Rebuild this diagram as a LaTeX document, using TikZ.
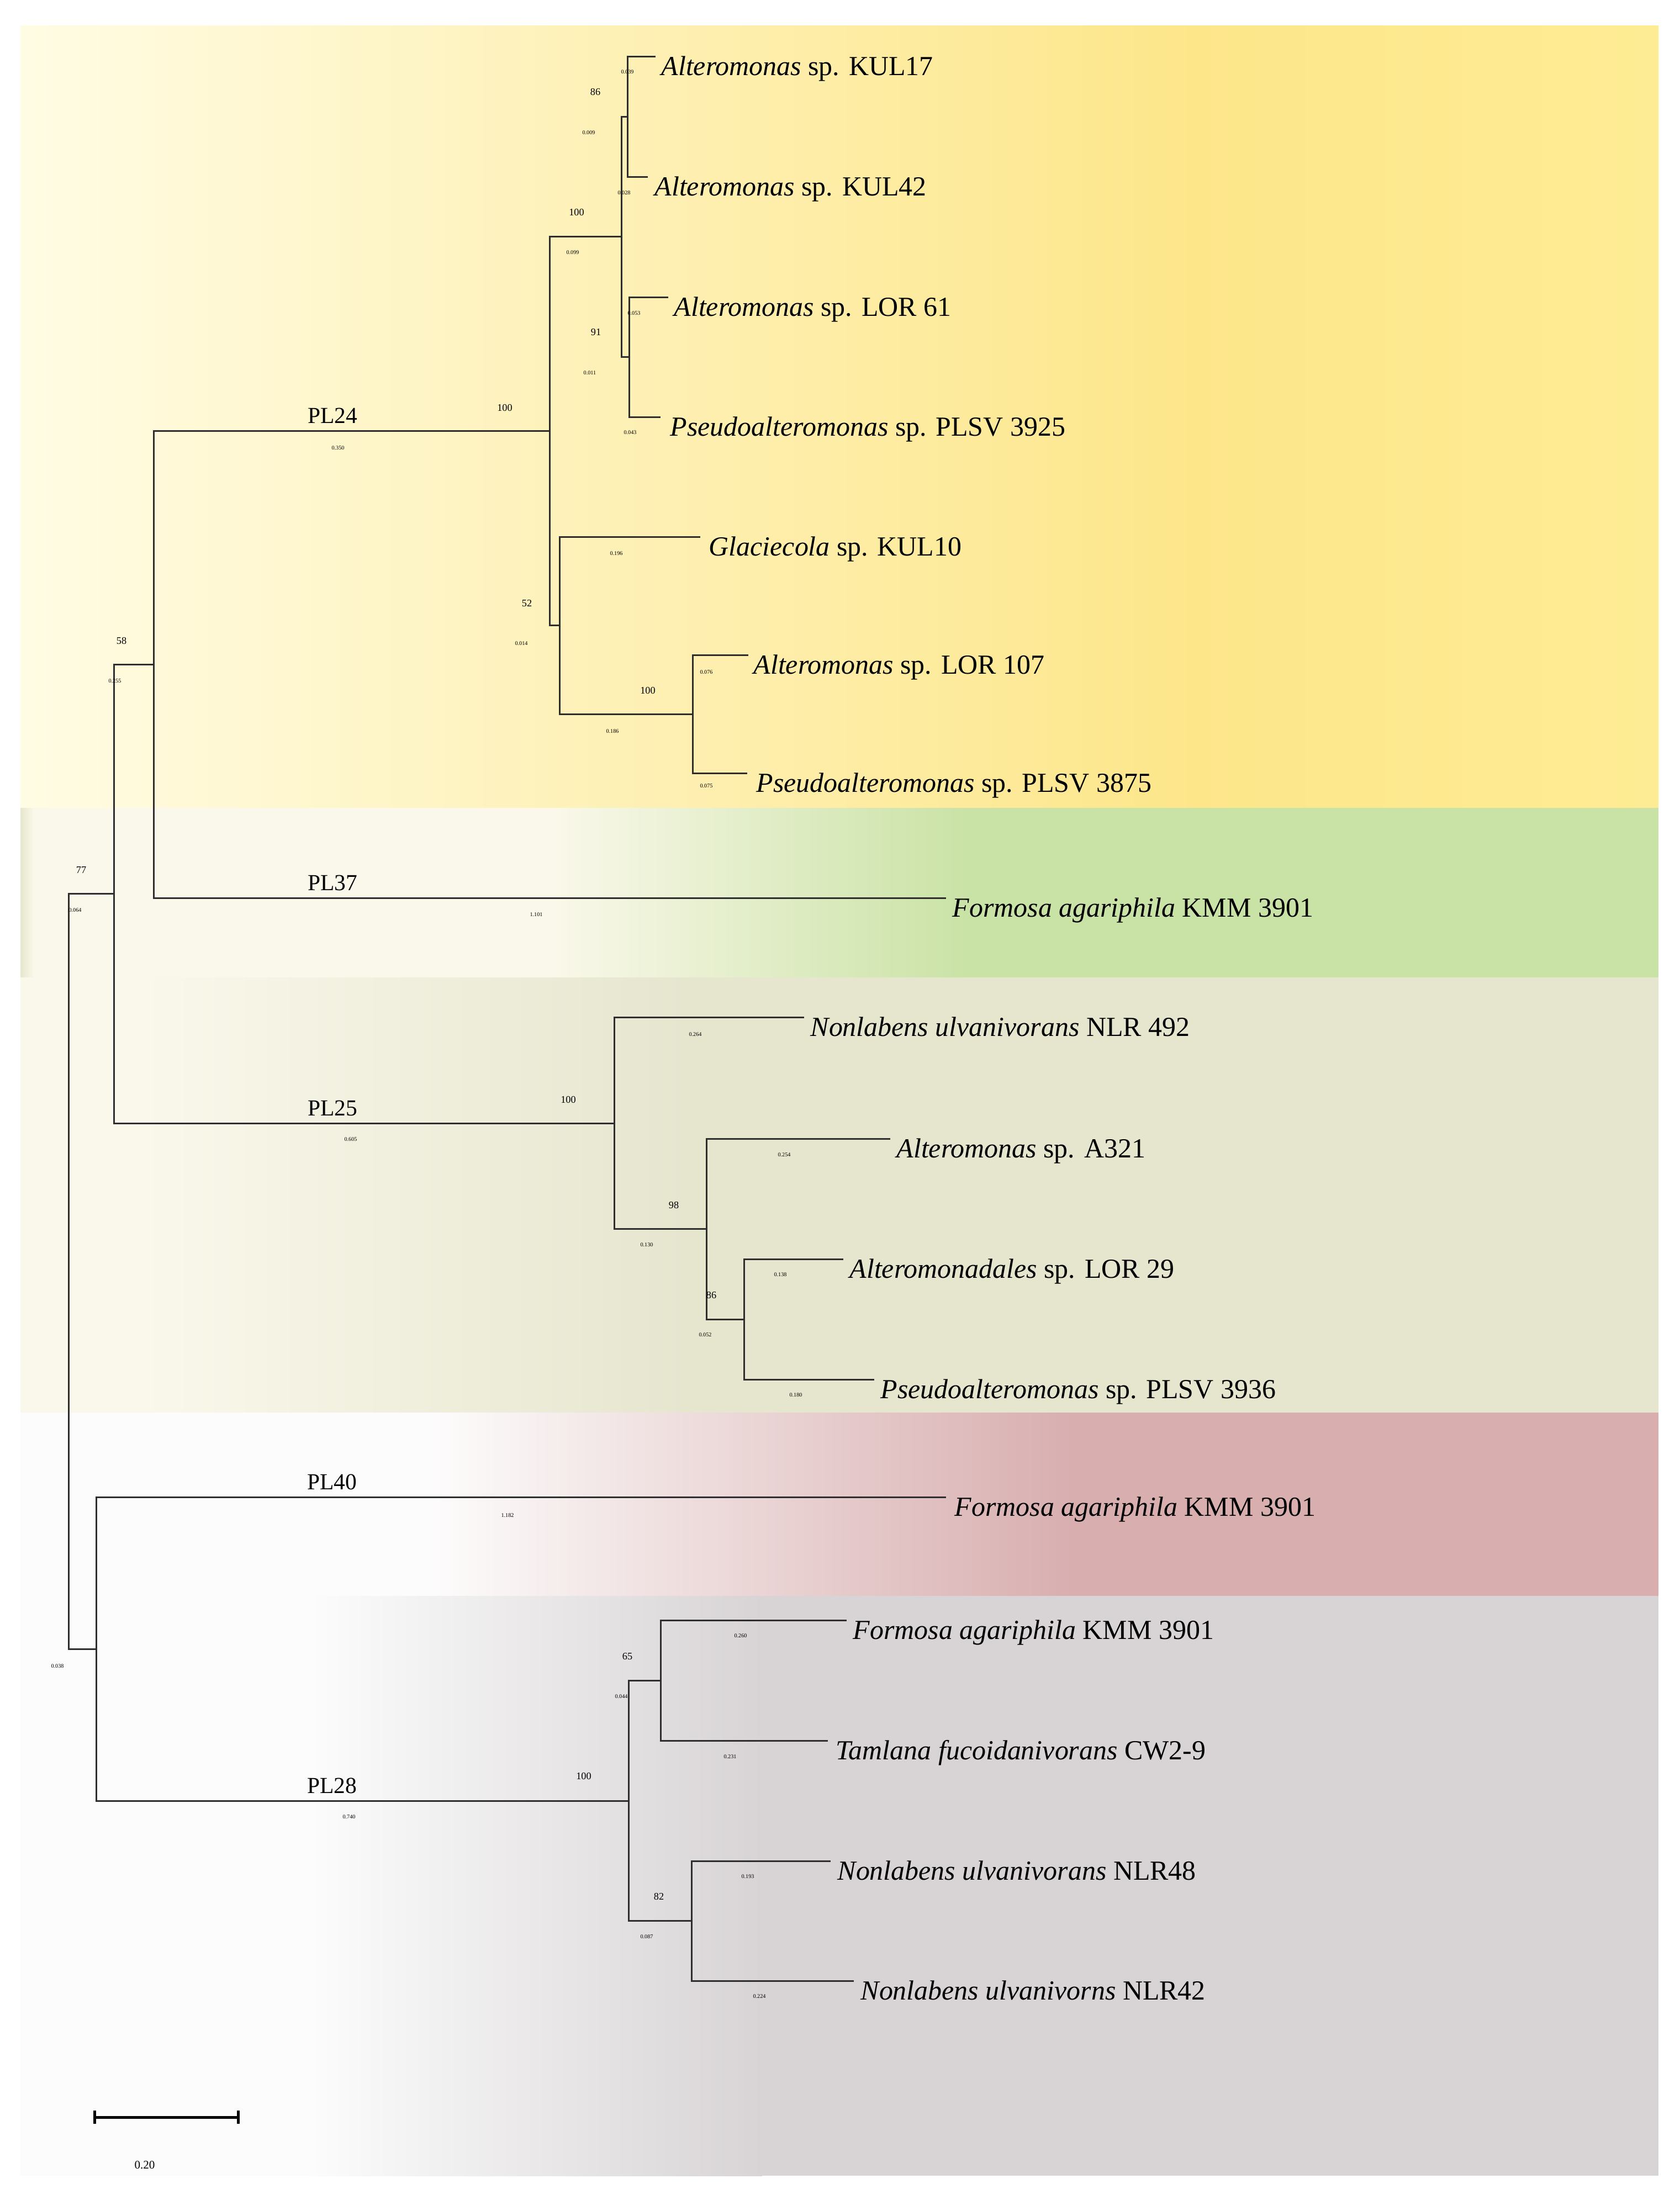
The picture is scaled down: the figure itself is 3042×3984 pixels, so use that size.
\documentclass[tikz,border=0pt]{standalone}
\usepackage{fontspec}
\setmainfont{Liberation Serif}
\definecolor{yA}{HTML}{FFFCE4}
\definecolor{yB}{HTML}{FDE68A}
\definecolor{yC}{HTML}{FEEC94}
\definecolor{gA}{HTML}{FAF8EA}
\definecolor{gB}{HTML}{C9E2A5}
\definecolor{gS}{HTML}{E6E7CE}
\definecolor{oA}{HTML}{FAF8EB}
\definecolor{oB}{HTML}{E6E6CF}
\definecolor{rA}{HTML}{FDFCFC}
\definecolor{rB}{HTML}{D8AEAF}
\definecolor{kA}{HTML}{FCFCFC}
\definecolor{kB}{HTML}{D8D4D5}
\definecolor{lineC}{HTML}{2E2E2E}
\tikzset{
  br/.style={line width=0.03cm, draw=lineC},
  sbar/.style={line width=0.05cm, draw=black},
  sp/.style={anchor=base west, inner sep=0pt, font=\fontsize{14.2pt}{16pt}\selectfont},
  pl/.style={anchor=base, inner sep=0pt, font=\fontsize{11.8pt}{13pt}\selectfont},
  bs/.style={anchor=center, inner sep=0pt, font=\fontsize{5.2pt}{6pt}\selectfont},
  bl/.style={anchor=center, inner sep=0pt, font=\fontsize{2.9pt}{3.5pt}\selectfont},
  sl/.style={anchor=center, inner sep=0pt, font=\fontsize{6pt}{7pt}\selectfont}
}
\begin{document}
\begin{tikzpicture}[x=0.01cm, y=-0.01cm]
\useasboundingbox (0,0) rectangle (3042,3984);
\fill[white] (0,0) rectangle (3042,3984);
% ---- bands ----
\shade[left color=yA, right color=yB] (37,46) rectangle (2160,1463);
\shade[left color=yB, right color=yC] (2150,46) rectangle (3003,1463);
\fill[gA] (37,1463) rectangle (1010,1770);
\shade[left color=gA, right color=gB] (1000,1463) rectangle (1760,1770);
\fill[gB] (1750,1463) rectangle (3003,1770);
\shade[left color=gS, right color=gA] (37,1463) rectangle (62,1770);
\fill[oA] (37,1770) rectangle (260,2558);
\shade[left color=oA, right color=oB] (250,1770) rectangle (1250,2558);
\fill[oB] (1240,1770) rectangle (3003,2558);
\fill[rA] (37,2558) rectangle (790,2890);
\shade[left color=rA, right color=rB] (780,2558) rectangle (1950,2890);
\fill[rB] (1940,2558) rectangle (3003,2890);
\fill[kA] (37,2890) rectangle (570,3940);
\shade[left color=kA, right color=kB] (560,2890) rectangle (1380,3940);
\fill[kB] (1370,2890) rectangle (3003,3940);
% ---- internal nodes ----
\coordinate (root) at (124,2302);
\coordinate (nA) at (206,1618.5);
\coordinate (nB) at (174,2986);
\coordinate (n58) at (278,1203);
\coordinate (nPL24) at (995,780.5);
\coordinate (nA100) at (1125,428.5);
\coordinate (nKUL) at (1136,211);
\coordinate (nLOR61) at (1139,646.5);
\coordinate (n52) at (1013,1132.5);
\coordinate (nLOR107) at (1254,1293);
\coordinate (nPL25) at (1112,2034);
\coordinate (n98) at (1279,2225.5);
\coordinate (n86) at (1347,2389);
\coordinate (n65) at (1196,3043);
\coordinate (n82) at (1252,3478.5);
\coordinate (nPL28) at (1138,3261);
% ---- tips ----
\coordinate (tKUL17) at (1187,102);
\coordinate (tKUL42) at (1173,320);
\coordinate (tLOR61) at (1210,538);
\coordinate (t3925) at (1196,755);
\coordinate (tGlac) at (1268,972);
\coordinate (tLOR107) at (1355,1186);
\coordinate (t3875) at (1353,1400);
\coordinate (tPL37) at (1713,1626);
\coordinate (tNLR492) at (1456,1842);
\coordinate (tA321) at (1612,2062);
\coordinate (tLOR29) at (1527,2280);
\coordinate (t3936) at (1583,2498);
\coordinate (tPL40) at (1713,2711);
\coordinate (tForm) at (1533,2934);
\coordinate (tTaml) at (1499,3152);
\coordinate (tNLR48) at (1504,3370);
\coordinate (tNLR42) at (1546,3587);
% ---- branches ----
\draw[br] (tKUL17) -| (nKUL) |- (tKUL42);
\draw[br] (tLOR61) -| (nLOR61) |- (t3925);
\draw[br] (nKUL) -| (nA100) |- (nLOR61);
\draw[br] (tLOR107) -| (nLOR107) |- (t3875);
\draw[br] (tGlac) -| (n52) |- (nLOR107);
\draw[br] (nA100) -| (nPL24) |- (n52);
\draw[br] (nPL24) -| (n58) |- (tPL37);
\draw[br] (tLOR29) -| (n86) |- (t3936);
\draw[br] (tA321) -| (n98) |- (n86);
\draw[br] (tNLR492) -| (nPL25) |- (n98);
\draw[br] (n58) -| (nA) |- (nPL25);
\draw[br] (tForm) -| (n65) |- (tTaml);
\draw[br] (tNLR48) -| (n82) |- (tNLR42);
\draw[br] (n65) -| (nPL28) |- (n82);
\draw[br] (tPL40) -| (nB) |- (nPL28);
\draw[br] (nA) -| (root) |- (nB);
% ---- species labels ----
\node[sp] (sKUL17) at (1197,136) {\textit{Alteromonas} sp. KUL17};
\node[sp] (sKUL42) at (1185,354) {\textit{Alteromonas} sp. KUL42};
\node[sp] (sLOR61) at (1220,572) {\textit{Alteromonas} sp. LOR 61};
\node[sp] (s3925) at (1213,789) {\textit{Pseudoalteromonas} sp. PLSV 3925};
\node[sp] (sGlac) at (1283,1006) {\textit{Glaciecola} sp. KUL10};
\node[sp] (sLOR107) at (1364,1220) {\textit{Alteromonas} sp. LOR 107};
\node[sp] (s3875) at (1369,1434) {\textit{Pseudoalteromonas} sp. PLSV 3875};
\node[sp] (sPL37) at (1724,1660) {\textit{Formosa agariphila} KMM 3901};
\node[sp] (sNLR492) at (1467,1876) {\textit{Nonlabens ulvanivorans} NLR 492};
\node[sp] (sA321) at (1623,2096) {\textit{Alteromonas} sp. A321};
\node[sp] (sLOR29) at (1538,2314) {\textit{Alteromonadales} sp. LOR 29};
\node[sp] (s3936) at (1594,2532) {\textit{Pseudoalteromonas} sp. PLSV 3936};
\node[sp] (sPL40) at (1728,2745) {\textit{Formosa agariphila} KMM 3901};
\node[sp] (sForm) at (1544,2968) {\textit{Formosa agariphila} KMM 3901};
\node[sp] (sTaml) at (1513,3186) {\textit{Tamlana fucoidanivorans} CW2-9};
\node[sp] (sNLR48) at (1516,3404) {\textit{Nonlabens ulvanivorans} NLR48};
\node[sp] (sNLR42) at (1558,3621) {\textit{Nonlabens ulvanivorns} NLR42};
% ---- clade labels ----
\node[pl] (pPL24) at (602,766.5) {PL24};
\node[pl] (pPL37) at (602,1612) {PL37};
\node[pl] (pPL25) at (602,2020) {PL25};
\node[pl] (pPL40) at (601,2697) {PL40};
\node[pl] (pPL28) at (601,3247) {PL28};
% ---- bootstrap values ----
\node[bs] (b1) at (1078,167) {86};
\node[bs] (b2) at (1044,385) {100};
\node[bs] (b3) at (1079,602) {91};
\node[bs] (b4) at (914,738) {100};
\node[bs] (b5) at (954,1093) {52};
\node[bs] (b6) at (1173,1250) {100};
\node[bs] (b7) at (220,1160) {58};
\node[bs] (b8) at (147,1575) {77};
\node[bs] (b9) at (1029,1991) {100};
\node[bs] (b10) at (1220,2182) {98};
\node[bs] (b11) at (1288,2345) {86};
\node[bs] (b12) at (1136,2999) {65};
\node[bs] (b13) at (1057,3216) {100};
\node[bs] (b14) at (1193,3434) {82};
% ---- branch lengths ----
\node[bl] (d1) at (1136,130) {0.039};
\node[bl] (d2) at (1066,240) {0.009};
\node[bl] (d3) at (1130,349) {0.028};
\node[bl] (d4) at (1037,457) {0.099};
\node[bl] (d5) at (1148,567) {0.053};
\node[bl] (d6) at (1068,675) {0.011};
\node[bl] (d7) at (1141,783) {0.043};
\node[bl] (d8) at (612,811) {0.350};
\node[bl] (d9) at (1116,1002) {0.196};
\node[bl] (d10) at (944,1165) {0.014};
\node[bl] (d11) at (1279,1217) {0.076};
\node[bl] (d12) at (1109,1324) {0.186};
\node[bl] (d13) at (1279,1423) {0.075};
\node[bl] (d14) at (208,1233) {0.255};
\node[bl] (d15) at (971,1656) {1.101};
\node[bl] (d16) at (136,1648) {0.064};
\node[bl] (d17) at (1259,1873) {0.264};
\node[bl] (d18) at (635,2063) {0.605};
\node[bl] (d19) at (1420,2091) {0.254};
\node[bl] (d20) at (1171,2254) {0.130};
\node[bl] (d21) at (1413,2308) {0.138};
\node[bl] (d22) at (1277,2417) {0.052};
\node[bl] (d23) at (1441,2526) {0.180};
\node[bl] (d24) at (919,2744) {1.182};
\node[bl] (d25) at (104,3017) {0.038};
\node[bl] (d26) at (1341,2962) {0.260};
\node[bl] (d27) at (1125,3072) {0.044};
\node[bl] (d28) at (1322,3181) {0.231};
\node[bl] (d29) at (632,3290) {0.740};
\node[bl] (d30) at (1354,3398) {0.193};
\node[bl] (d31) at (1171,3507) {0.087};
\node[bl] (d32) at (1375,3615) {0.224};
% ---- scale bar ----
\coordinate (sbL) at (171,3834);
\coordinate (sbR) at (431,3834);
\coordinate (sbLt) at (171,3822);
\coordinate (sbLb) at (171,3846);
\coordinate (sbRt) at (431,3822);
\coordinate (sbRb) at (431,3846);
\draw[sbar] (sbL) -- (sbR);
\draw[sbar] (sbLt) -- (sbLb);
\draw[sbar] (sbRt) -- (sbRb);
\node[sl] (sbLabel) at (262,3921) {0.20};
\end{tikzpicture}
\end{document}
